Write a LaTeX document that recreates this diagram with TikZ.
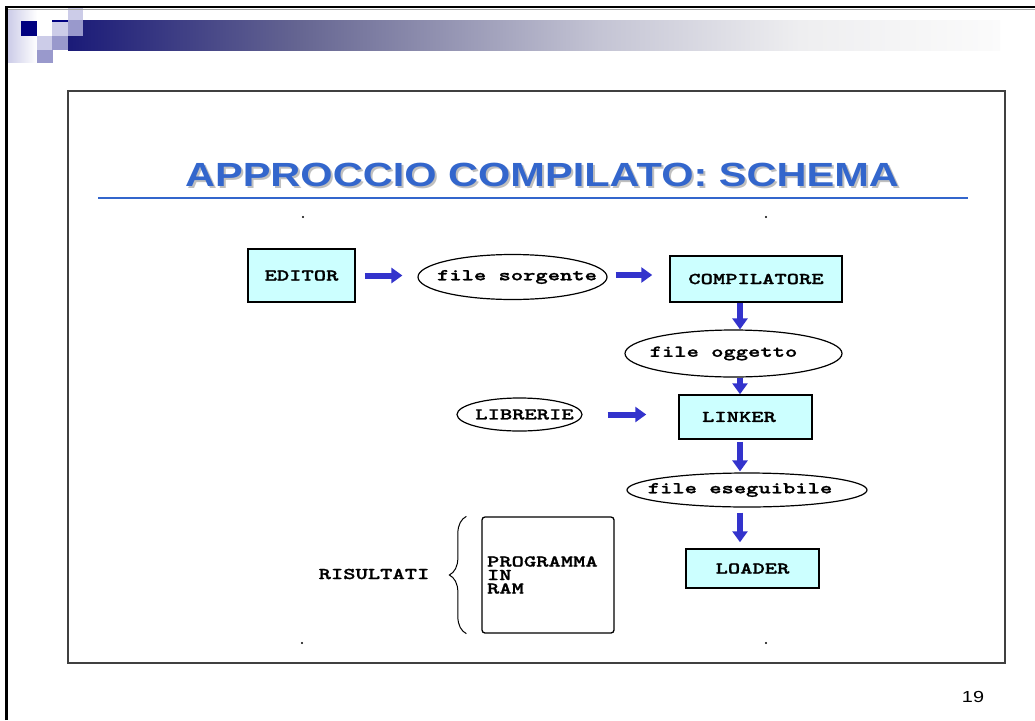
\documentclass[tikz,border=0pt]{standalone}
\usepackage{fontspec}
\setmainfont{Liberation Serif}
\newfontfamily\courfont[Extension=.otf, FakeStretch=1.42, FakeBold=1.3]{lmmonolt10-bold}
\newfontfamily\arialfont[FakeStretch=1.24]{Liberation Sans}
\usetikzlibrary{arrows.meta,shapes.geometric,decorations.pathreplacing,calc}
\definecolor{navy}{HTML}{000080}
\definecolor{lightlav}{HTML}{CCCCE8}
\definecolor{midlav}{HTML}{9999CC}
\definecolor{barA}{HTML}{1A1A78}
\definecolor{barB}{HTML}{666692}
\definecolor{barC}{HTML}{C4C4D4}
\definecolor{barD}{HTML}{EEEEF0}
\definecolor{barE}{HTML}{FBFBFB}
\definecolor{boxcyan}{HTML}{CCFFFF}
\definecolor{arrblue}{HTML}{3333CC}
\definecolor{titleblue}{HTML}{3366CC}
\pgfdeclarehorizontalshading{barshade}{100bp}{color(0bp)=(barA); color(25bp)=(barA); color(37.5bp)=(barB); color(53.5bp)=(barC); color(64.25bp)=(barD); color(75bp)=(barE); color(100bp)=(barE)}
\tikzset{
  mono/.style={font=\courfont\fontsize{16.5}{13.5}\selectfont},
  stagebox/.style={mono, draw=black, line width=1.5pt, fill=boxcyan, inner sep=0pt},
  fileell/.style={mono, ellipse, draw=black, line width=1.2pt, inner sep=0pt},
  arr/.style={draw=arrblue, line width=6pt, -{Triangle[length=11pt,width=15pt]}},
  titlefont/.style={font=\arialfont\bfseries\fontsize{33.5}{36}\selectfont, anchor=base, inner sep=0pt},
  dotmark/.style={fill=black}
}
\begin{document}
\begin{tikzpicture}[x=1pt,y=-1pt]
\useasboundingbox[fill=white] (0,0) rectangle (1035,720);
% header decoration
\shade[shading=barshade] (68,20) rectangle (1000,50);
\shade[left color=lightlav, right color=white] (8,10) rectangle (37,62);
\fill[white] (21,21) rectangle (37,36);
\fill[navy] (21,21) rectangle (37,36);
\fill[lightlav] (68,7) rectangle (83,20);
\fill[midlav] (68,20) rectangle (83,36);
\fill[lightlav] (52,21) rectangle (68,36);
\fill[navy] (52,20) rectangle (68,21.5);
\fill[lightlav] (37,36) rectangle (52,50);
\fill[midlav] (52,36) rectangle (68,50);
\fill[midlav] (37,50) rectangle (53,63);
% window border
\draw[black!35, line width=1pt] (8,9.5) -- (1035,9.5);
\draw[black, line width=2.5pt] (6.5,720) -- (6.5,7) -- (1035,7);
% inner frame
\draw[black!75, line width=1.5pt] (68,91) rectangle (1005,663);
% title
\node[titlefont, text=black!25] (titleshadow) at (544,188) {APPROCCIO COMPILATO: SCHEMA};
\node[titlefont, text=titleblue] (title) at (542,186) {APPROCCIO COMPILATO: SCHEMA};
\draw[titleblue, line width=2pt] (98,198) -- (968,198);
% dots
\fill[dotmark] (303,217) circle (1.2);
\fill[dotmark] (766,217) circle (1.2);
\fill[dotmark] (302,643) circle (1.2);
\fill[dotmark] (766,643) circle (1.2);
% nodes
\node[stagebox, minimum width=107pt, minimum height=53pt] (editor) at (301.5,275.5) {EDITOR};
\node[fileell, minimum width=189pt, minimum height=45pt] (sorg) at (512.5,277) {\makebox[0pt]{\hspace*{9pt}file sorgente}};
\node[stagebox, minimum width=172pt, minimum height=46pt] (comp) at (756,279) {COMPILATORE};
\node[fileell, minimum width=217pt, minimum height=47pt] (ogg) at (733.5,353.5) {\makebox[0pt]{file oggetto\hspace*{20pt}}};
\node[fileell, minimum width=125pt, minimum height=33pt] (lib) at (519.5,414.5) {\makebox[0pt]{\hspace*{10pt}LIBRERIE}};
\node[stagebox, minimum width=133pt, minimum height=44pt] (linker) at (745.5,417) {\makebox[0pt]{LINKER\hspace*{13pt}}};
\node[fileell, minimum width=240pt, minimum height=34pt] (eseg) at (747,490) {\makebox[0pt]{file eseguibile\hspace*{14pt}}};
\node[stagebox, minimum width=133pt, minimum height=39pt] (loader) at (752.5,568.5) {LOADER};
\node[mono, draw=black, line width=1.3pt, rounded corners=3pt, text width=122pt, align=left, inner xsep=5pt, inner ysep=0pt, minimum height=116pt] (ram) at (548,575) {PROGRAMMA\\IN\\RAM};
\node[mono, inner sep=0pt] (ris) at (374,574) {RISULTATI};
\draw[line width=1pt, decorate, decoration={brace, amplitude=17pt}] ($(ram.south west)+(-15,0)$) -- ($(ram.north west)+(-15,0)$);
% arrows
\coordinate (ax) at (740,0);
\draw[arr, shorten <=9pt, shorten >=15pt] (editor.east) -- (editor.east -| sorg.west);
\draw[arr, shorten <=8pt, shorten >=17pt] ($(sorg.east)+(0,-2)$) -- ($(sorg.east -| comp.west)+(0,-2)$);
\draw[arr] (comp.south -| ax) -- (ogg.north -| ax);
\draw[arr] (ogg.south -| ax) -- (linker.north -| ax);
\draw[arr, shorten <=2pt, shorten >=1pt] (linker.south -| ax) -- (eseg.north -| ax);
\draw[arr, shorten <=5pt, shorten >=6pt] (eseg.south -| ax) -- (loader.north -| ax);
\draw[arr, shorten <=25pt, shorten >=32pt] (lib.east) -- (lib.east -| linker.west);
% page number
\node[font=\arialfont\fontsize{16}{18}\selectfont, inner sep=0pt] (pagenum) at (973,697) {19};
\end{tikzpicture}
\end{document}
